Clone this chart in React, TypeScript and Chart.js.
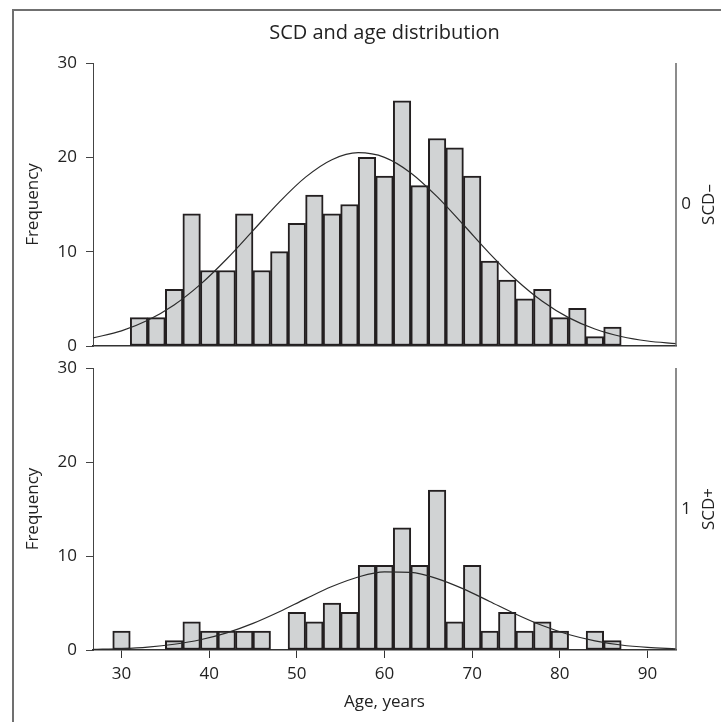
import React, { useEffect, useRef } from "react";
import { Chart, registerables } from "chart.js";
Chart.register(...registerables);

// ---- data ----
const binCenters = [30, 32, 34, 36, 38, 40, 42, 44, 46, 48, 50, 52, 54, 56, 58, 60, 62, 64, 66, 68, 70, 72, 74, 76, 78, 80, 82, 84, 86];
const scdNegCounts = [0, 3, 3, 6, 14, 8, 8, 14, 8, 10, 13, 16, 14, 15, 20, 18, 26, 17, 22, 21, 18, 9, 7, 5, 6, 3, 4, 1, 2];
const scdPosCounts = [2, 0, 0, 1, 3, 2, 2, 2, 2, 0, 4, 3, 5, 4, 9, 9, 13, 9, 17, 3, 9, 2, 4, 2, 3, 2, 0, 2, 1];

const curveAges = [26.75, 30, 33, 36, 39, 42, 45, 48, 51, 54, 57, 60, 63, 66, 69, 72, 75, 78, 81, 84, 87, 90, 93.25];
const scdNegCurve = [0.85, 1.61, 2.73, 4.35, 6.53, 9.22, 12.23, 15.26, 17.9, 19.75, 20.49, 20.0, 18.35, 15.83, 12.85, 9.8, 7.03, 4.75, 3.01, 1.8, 1.01, 0.53, 0.25];
const scdPosCurve = [0.06, 0.15, 0.31, 0.61, 1.09, 1.82, 2.83, 4.07, 5.44, 6.75, 7.77, 8.31, 8.25, 7.6, 6.5, 5.16, 3.81, 2.6, 1.65, 0.98, 0.53, 0.27, 0.12];

const yTicks = [0, 10, 20, 30];
const xTicks = [30, 40, 50, 60, 70, 80, 90];
const xMin = 26.75;
const xMax = 93.25;

const groupCodes = ["0", "1"];
const groupNames = ["SCD\u2013", "SCD+"];
const titleText = "SCD and age distribution";
const xTitle = "Age, years";
const yTitle = "Frequency";

const FONT = "'Open Sans', 'DejaVu Sans', sans-serif";
const TEXT = "#222";

type PanelProps = {
  counts: number[];
  curve: number[];
  code: string;
  name: string;
  showX: boolean;
  showTitle: boolean;
  top: number;
  height: number;
  padTop: number;
  xAxisHeight: number;
};

function Panel(p: PanelProps) {
  const ref = useRef<HTMLCanvasElement>(null);
  useEffect(() => {
    const bars = binCenters
      .map((x, i) => ({ x, y: p.counts[i] }))
      .filter((d) => d.y > 0);
    const line = curveAges.map((x, i) => ({ x, y: p.curve[i] }));

    const sidePlugin = {
      id: "side",
      afterDraw(chart: any) {
        const { ctx, chartArea: a } = chart;
        ctx.save();
        ctx.strokeStyle = "#666";
        ctx.lineWidth = 1.5;
        ctx.beginPath();
        ctx.moveTo(a.right, a.top);
        ctx.lineTo(a.right, a.bottom);
        ctx.stroke();
        const cy = (a.top + a.bottom) / 2;
        ctx.fillStyle = TEXT;
        ctx.font = `17px ${FONT}`;
        ctx.textAlign = "center";
        ctx.textBaseline = "middle";
        ctx.fillText(p.code, a.right + 10, cy);
        ctx.save();
        ctx.translate(a.right + 33, cy);
        ctx.rotate(-Math.PI / 2);
        ctx.fillText(p.name, 0, 0);
        ctx.restore();
        if (p.showTitle) {
          ctx.font = `20px ${FONT}`;
          ctx.fillText(titleText, (a.left + a.right) / 2, 33);
        }
        ctx.restore();
      },
    };

    const chart = new Chart(ref.current as HTMLCanvasElement, {
      type: "bar",
      data: {
        datasets: [
          {
            type: "line",
            data: line,
            borderColor: "#2b2b2b",
            borderWidth: 1.2,
            pointRadius: 0,
            tension: 0.4,
            cubicInterpolationMode: "monotone",
            fill: false,
            order: 0,
          } as any,
          {
            type: "bar",
            data: bars,
            backgroundColor: "#d1d3d4",
            borderColor: "#231f20",
            borderWidth: 2,
            borderSkipped: false,
            barPercentage: 1,
            categoryPercentage: 1,
            order: 1,
          } as any,
        ],
      },
      options: {
        animation: false,
        responsive: false,
        maintainAspectRatio: false,
        events: [],
        layout: { padding: { top: p.padTop, right: 45, left: 0, bottom: 0 } },
        plugins: {
          legend: { display: false },
          tooltip: { enabled: false },
          title: { display: false },
        },
        scales: {
          x: {
            type: "linear",
            min: xMin,
            max: xMax,
            offset: false,
            afterBuildTicks: (s: any) => {
              s.ticks = xTicks.map((v) => ({ value: v }));
            },
            afterFit: (s: any) => {
              s.height = p.xAxisHeight;
            },
            border: { display: true, color: "#333", width: 1.5 },
            grid: {
              display: p.showX,
              offset: false,
              drawOnChartArea: false,
              drawTicks: p.showX,
              tickLength: 8,
              color: "#333",
            },
            ticks: {
              display: p.showX,
              font: { family: FONT, size: 17 },
              color: TEXT,
              padding: 6,
              maxRotation: 0,
              autoSkip: false,
            },
            title: {
              display: p.showX,
              text: xTitle,
              font: { family: FONT, size: 17 },
              color: TEXT,
              padding: { top: 0, bottom: 10 },
            },
          },
          y: {
            type: "linear",
            min: 0,
            max: 30,
            afterBuildTicks: (s: any) => {
              s.ticks = yTicks.map((v) => ({ value: v }));
            },
            afterFit: (s: any) => {
              s.width = 93;
            },
            border: { display: true, color: "#444", width: 1 },
            grid: {
              display: true,
              drawOnChartArea: false,
              drawTicks: true,
              tickLength: 7,
              color: "#444",
            },
            ticks: {
              font: { family: FONT, size: 17 },
              color: TEXT,
              padding: 9,
            },
            title: {
              display: true,
              text: yTitle,
              font: { family: FONT, size: 17 },
              color: TEXT,
              padding: { top: 23, bottom: 0 },
            },
          },
        },
      } as any,
      plugins: [sidePlugin],
    });
    return () => chart.destroy();
  }, []);
  return (
    <canvas
      ref={ref}
      width={721}
      height={p.height}
      style={{ position: "absolute", left: 0, top: p.top, width: 721, height: p.height }}
    />
  );
}

export default function App() {
  return (
    <div style={{ position: "fixed", left: 0, top: 0, width: 721, height: 722, background: "#fff", overflow: "hidden" }}>
      <div
        style={{
          position: "absolute",
          left: 12,
          top: 9,
          width: 709,
          height: 713,
          boxSizing: "border-box",
          borderLeft: "2px solid #707070",
          borderTop: "2px solid #707070",
        }}
      />
      <Panel counts={scdNegCounts} curve={scdNegCurve} code={groupCodes[0]} name={groupNames[0]} showX={false} showTitle={true} top={0} height={370} padTop={63} xAxisHeight={24} />
      <Panel counts={scdPosCounts} curve={scdPosCurve} code={groupCodes[1]} name={groupNames[1]} showX={true} showTitle={false} top={344} height={378} padTop={24} xAxisHeight={72} />
    </div>
  );
}
